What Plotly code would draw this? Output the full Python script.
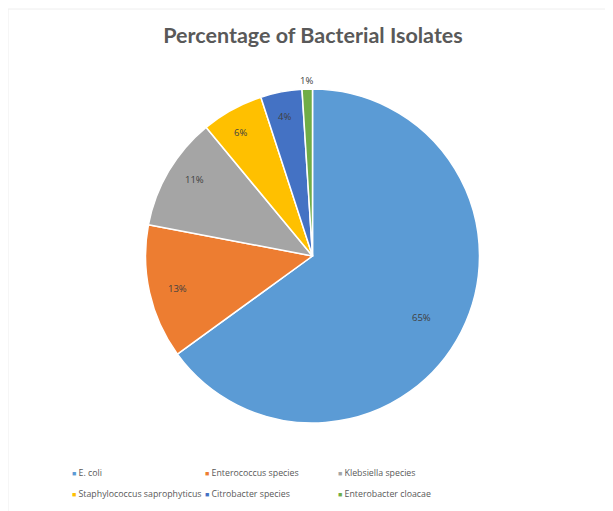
import math
import plotly.graph_objs as go

labels = ['E. coli', 'Enterococcus species', 'Klebsiella species',
          'Staphylococcus saprophyticus', 'Citrobacter species', 'Enterobacter cloacae']
values = [65, 13, 11, 6, 4, 1]
colors = ['#5B9BD5', '#ED7D31', '#A5A5A5', '#FFC000', '#4472C4', '#70AD47']

# page body adds an 8px margin, so the figure is a bit smaller
OFF = 8
W, H = 605, 503
# pie placement in page pixels
cx, cy, r = 312.5 - OFF, 256 - OFF, 167

fig = go.Figure(go.Pie(
    labels=labels, values=values, sort=False, direction='clockwise', rotation=0,
    marker=dict(colors=colors, line=dict(color='white', width=1.5)),
    textinfo='none', hoverinfo='label+percent', showlegend=False,
    domain=dict(x=[(cx - r) / W, (cx + r) / W], y=[1 - (cy + r) / H, 1 - (cy - r) / H]),
))

# percentage labels near the rim, like Excel's best fit
total = sum(values)
start = 0
annotations = []
for i, v in enumerate(values):
    mid = (start + v / 2) / total * 2 * math.pi
    start += v
    dist = 0.81 if i == 0 else (1.1 if v / total < 0.02 else 0.9)
    px_ = cx + dist * r * math.sin(mid)
    py_ = cy - dist * r * math.cos(mid)
    annotations.append(dict(
        x=px_ / W, y=1 - py_ / H, xref='paper', yref='paper', showarrow=False,
        text=f"{round(v / total * 100)}%", font=dict(size=9.5, color='#404040', family='Open Sans'),
    ))

# Excel-style legend: three columns, two rows, tiny square markers
col_x = [70, 203, 336]
row_y = [473, 494]
for i, (lab, col) in enumerate(zip(labels, colors)):
    annotations.append(dict(
        x=(col_x[i % 3] - OFF) / W, y=1 - (row_y[i // 3] - OFF) / H,
        xref='paper', yref='paper', xanchor='left', yanchor='middle', showarrow=False,
        text=f"<span style='color:{col};font-size:7px'>■</span> {lab}",
        font=dict(size=8.8, color='#595959', family='Open Sans'),
    ))

fig.update_layout(
    width=W, height=H,
    margin=dict(l=0, r=0, t=0, b=0),
    paper_bgcolor='white',
    title=dict(text='<b>Percentage of Bacterial Isolates</b>', x=(313 - OFF) / W, xanchor='center',
               y=1 - (35 - OFF) / H, yanchor='middle',
               font=dict(family='Lato', size=21.5, color='#595959')),
    annotations=annotations,
    shapes=[dict(type='rect', xref='paper', yref='paper', x0=0, x1=1.01, y0=-0.01, y1=1 - 1 / H,
                 line=dict(color='#EEEEEE', width=1))],
)

fig.write_html("out.html")
